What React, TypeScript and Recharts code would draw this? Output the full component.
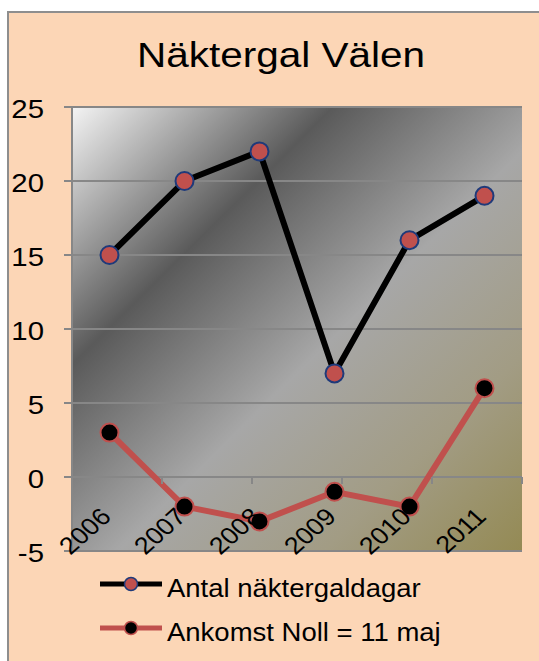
import React from 'react';
import { LineChart, Line, XAxis, YAxis, CartesianGrid, ReferenceDot } from 'recharts';

const years = ['2006', '2007', '2008', '2009', '2010', '2011'];
const antalNaktergaldagar = [15, 20, 22, 7, 16, 19];
const ankomstNoll = [3, -2, -3, -1, -2, 6];
const yTicks = [-5, 0, 5, 10, 15, 20, 25];
const title = 'Näktergal Välen';

const series = [
  { key: 'antal', name: 'Antal näktergaldagar', stroke: '#000000', dotFill: '#C0504D', dotStroke: '#1F3A7A' },
  { key: 'ankomst', name: 'Ankomst Noll = 11 maj', stroke: '#C0504D', dotFill: '#000000', dotStroke: '#C0504D' },
];

const data = years.map((year, i) => ({ year, antal: antalNaktergaldagar[i], ankomst: ankomstNoll[i] }));
const boundaries = years.map((_, i) => i + 1);

const FONT = '"Liberation Sans", Arial, sans-serif';
const GRID = '#878787';

const YTick = (props: any) => {
  const { x, y, payload } = props;
  return (
    <g transform={`translate(${x},${y}) scale(1.13,1)`}>
      <text x={0} y={0} dy={11} textAnchor="end" fontSize={26} fontFamily={FONT} fill="#000">
        {payload.value}
      </text>
    </g>
  );
};

const XTick = (props: any) => {
  const { x, y, payload } = props;
  return (
    <g transform={`translate(${x + 3},${y - 33}) scale(1.12,1) rotate(-45)`}>
      <text x={0} y={0} textAnchor="end" fontSize={24} fontFamily={FONT} fill="#000">
        {payload.value}
      </text>
    </g>
  );
};

const TickMark = (props: any) => {
  const { cx, cy } = props;
  return <line x1={cx} y1={cy} x2={cx} y2={cy + 7} stroke={GRID} strokeWidth={2} />;
};

export default function App() {
  return (
    <div style={{ position: 'relative', width: 539, height: 661, overflow: 'hidden' }}>
      <style>{`body{margin:0;overflow:hidden;background:#fff}`}</style>
      <div
        style={{
          position: 'absolute',
          left: 7,
          top: 11,
          width: 620,
          height: 720,
          background: '#FCD6B6',
          borderLeft: '2px solid #8e8e8e',
          borderTop: '2px solid #8e8e8e',
        }}
      />
      <div style={{ position: 'absolute', left: 0, top: 0 }}>
        <LineChart width={539} height={661} data={data} margin={{ top: 107, right: 17, bottom: 80, left: 0 }}>
          <defs>
            <linearGradient id="plotBg" x1="0" y1="0" x2="1" y2="1">
              <stop offset="0" stopColor="#f4f4f4" />
              <stop offset="0.29" stopColor="#5a5a5a" />
              <stop offset="0.55" stopColor="#a7a7a7" />
              <stop offset="0.78" stopColor="#a29c84" />
              <stop offset="1" stopColor="#948a54" />
            </linearGradient>
          </defs>
          <CartesianGrid vertical={false} stroke={GRID} strokeWidth={2} fill="url(#plotBg)" fillOpacity={1} />
          <XAxis
            dataKey="year"
            xAxisId="cat"
            scale="band"
            axisLine={false}
            tickLine={false}
            tickSize={0}
            tickMargin={0}
            height={30}
            interval={0}
            tick={<XTick />}
          />
          <XAxis xAxisId="num" type="number" domain={[0, years.length]} hide />
          <YAxis
            width={72}
            domain={[-5, 25]}
            ticks={yTicks}
            interval={0}
            axisLine={{ stroke: GRID, strokeWidth: 2 }}
            tickLine={{ stroke: GRID, strokeWidth: 2 }}
            tickSize={8}
            tickMargin={20}
            tick={<YTick />}
          />
          {boundaries.map((b) => (
            <ReferenceDot key={b} xAxisId="num" x={b} y={0} ifOverflow="visible" shape={<TickMark />} />
          ))}
          {series.map((s) => (
            <Line
              key={s.key}
              xAxisId="cat"
              type="linear"
              dataKey={s.key}
              name={s.name}
              stroke={s.stroke}
              strokeWidth={6}
              dot={{ r: 9, fill: s.dotFill, stroke: s.dotStroke, strokeWidth: 2 }}
              activeDot={false}
              isAnimationActive={false}
            />
          ))}
        </LineChart>
      </div>
      <svg
        width={539}
        height={661}
        style={{ position: 'absolute', left: 0, top: 0, pointerEvents: 'none' }}
      >
        <g transform="translate(281,67) scale(1.125,1)">
          <text x={0} y={0} textAnchor="middle" fontSize={36} fontFamily={FONT} fill="#000">
            {title}
          </text>
        </g>
        {series.map((s, i) => {
          const cy = 584 + i * 44;
          return (
            <g key={s.key}>
              <line x1={100} y1={cy} x2={162} y2={cy} stroke={s.stroke} strokeWidth={5} />
              <circle cx={131} cy={cy} r={6.5} fill={s.dotFill} stroke={s.dotStroke} strokeWidth={1.5} />
              <g transform={`translate(167,${cy + 13}) scale(1.1,1)`}>
                <text x={0} y={0} fontSize={25} fontFamily={FONT} fill="#000">
                  {s.name}
                </text>
              </g>
            </g>
          );
        })}
      </svg>
    </div>
  );
}
